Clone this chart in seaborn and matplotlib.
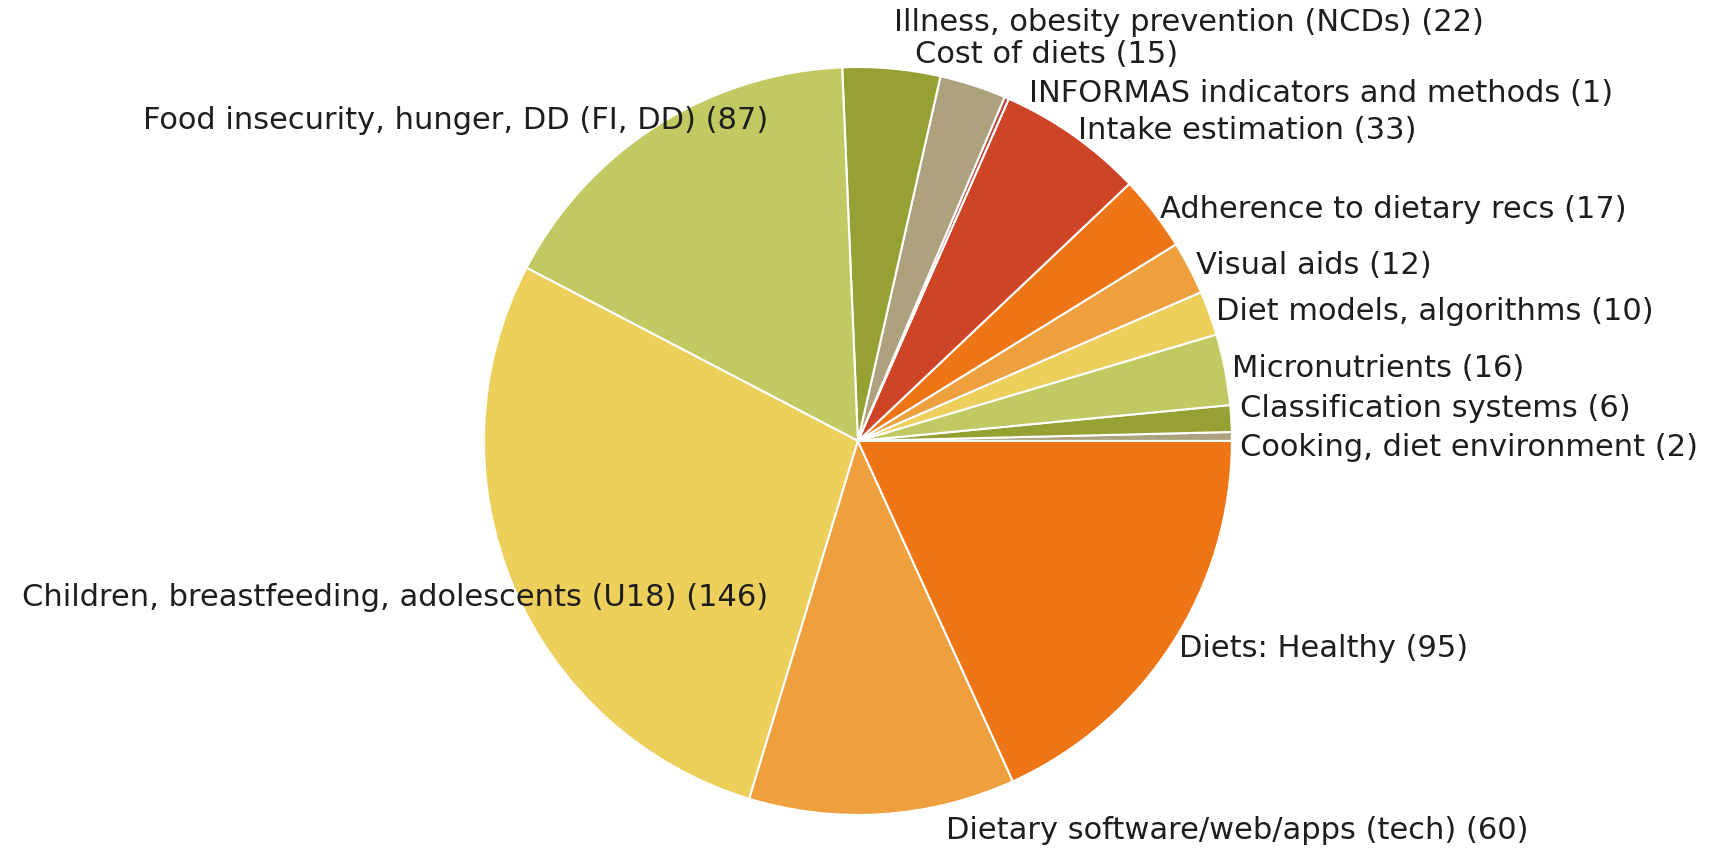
import matplotlib
matplotlib.use("Agg")
import matplotlib.pyplot as plt
import seaborn as sns

# --- data (counter-clockwise from 3 o'clock) ---
categories = [
    "Cooking, diet environment",
    "Classification systems",
    "Micronutrients",
    "Diet models, algorithms",
    "Visual aids",
    "Adherence to dietary recs",
    "Intake estimation",
    "INFORMAS indicators and methods",
    "Cost of diets",
    "Illness, obesity prevention (NCDs)",
    "Food insecurity, hunger, DD (FI, DD)",
    "Children, breastfeeding, adolescents (U18)",
    "Dietary software/web/apps (tech)",
    "Diets: Healthy",
]
counts = [2, 6, 16, 10, 12, 17, 33, 1, 15, 22, 87, 146, 60, 95]

palette = ["#ada27d", "#96a033", "#c2c963", "#edd05b", "#eea03f",
           "#ee7515", "#cd4427", "#b8433a"]

sns.set_theme(style="white")
plt.rcParams["font.family"] = ["DejaVu Sans"]

fig = plt.figure(figsize=(17.21, 8.53), dpi=100)
ax = fig.add_axes([0.2812, 0.0434, 0.4346, 0.8769])

colors = [palette[i % len(palette)] for i in range(len(counts))]
labels = [f"{c} ({n})" for c, n in zip(categories, counts)]

wedges, texts = ax.pie(
    counts,
    labels=labels,
    colors=colors,
    startangle=0,
    counterclock=True,
    labeldistance=1.02,
    radius=1,
    wedgeprops=dict(edgecolor="white", linewidth=1.5),
    textprops=dict(fontsize=22, color="#1e1e1e"),
)
for t in texts:
    t.set_va("center")

# nudge crowded labels the way the original layout did
moves = {
    0: (1.023, -0.014, "left"),
    1: (1.023, 0.090, "left"),
    7: (0.457, 0.933, "left"),
    8: (0.152, 1.035, "left"),
    9: (0.097, 1.123, "left"),
    10: (-0.240, 0.859, "right"),
    11: (-0.240, -0.416, "right"),
    12: (0.235, -1.038, "left"),
}
for i, (x, y, ha) in moves.items():
    texts[i].set_position((x, y))
    texts[i].set_ha(ha)

ax.set_xlim(-1, 1)
ax.set_ylim(-1, 1)
ax.set_aspect("equal")
ax.axis("off")

fig.savefig("out.png", dpi=100)
